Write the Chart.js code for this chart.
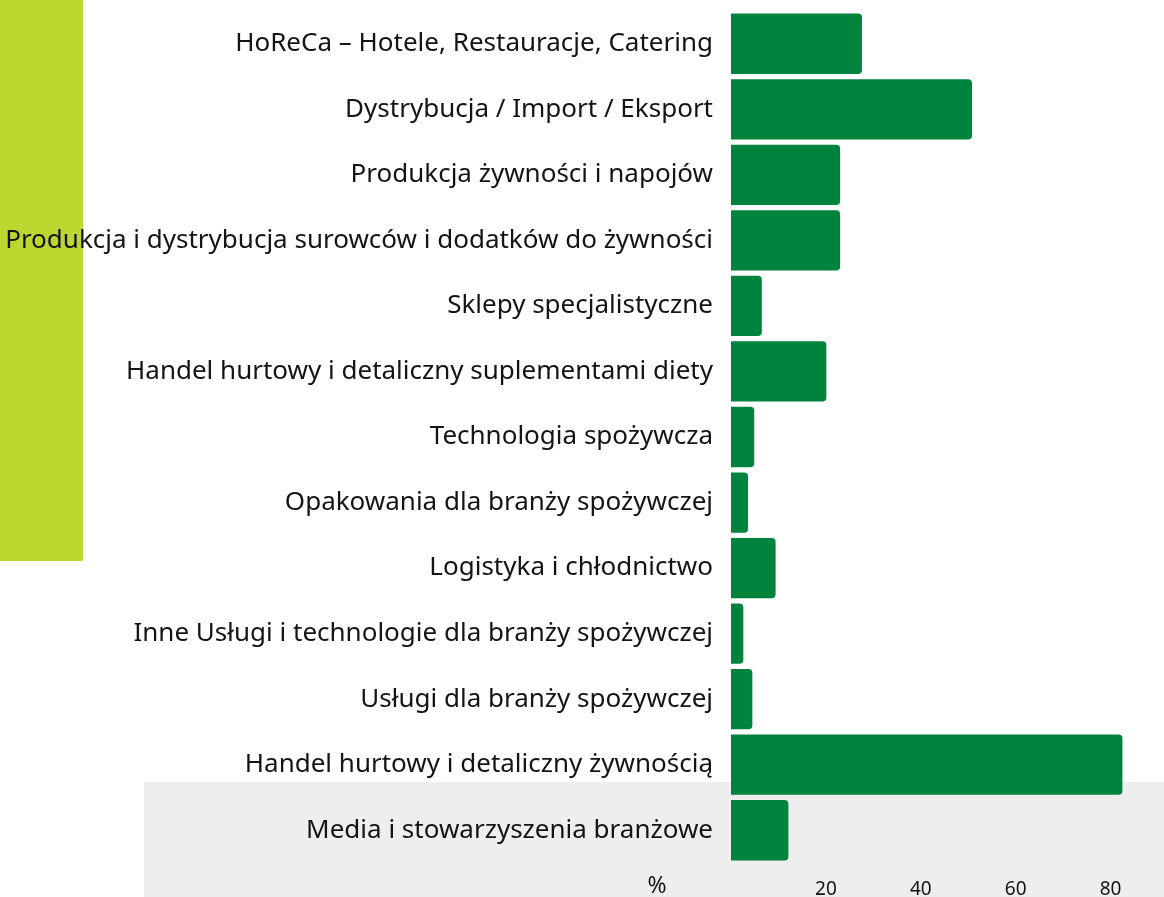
<!DOCTYPE html>
<html>
<head>
<meta charset="utf-8">
<script src="https://cdn.jsdelivr.net/npm/chart.js@4/dist/chart.umd.min.js"></script>
<style>
  html, body { margin: 0; padding: 0; background: #ffffff; }
  #wrap { position: relative; width: 1164px; height: 897px; }
</style>
</head>
<body>
<div id="wrap"><canvas id="branzeChart"></canvas></div>
<script>
// categories (top to bottom)
const categories = [
    'HoReCa – Hotele, Restauracje, Catering',
    'Dystrybucja / Import / Eksport',
    'Produkcja żywności i napojów',
    'Produkcja i dystrybucja surowców i dodatków do żywności',
    'Sklepy specjalistyczne',
    'Handel hurtowy i detaliczny suplementami diety',
    'Technologia spożywcza',
    'Opakowania dla branży spożywczej',
    'Logistyka i chłodnictwo',
    'Inne Usługi i technologie dla branży spożywczej',
    'Usługi dla branży spożywczej',
    'Handel hurtowy i detaliczny żywnością',
    'Media i stowarzyszenia branżowe'
];

// share of respondents, %
const shares = [27.6, 50.8, 23.0, 23.0, 6.5, 20.1, 4.9, 3.6, 9.4, 2.6, 4.5, 82.5, 12.1];

// x axis tick labels
const tickValues = [20, 40, 60, 80];
const unitLabel = '%';

const GREEN = '#00843d';
const TEXT = '#141414';
const FONT = '"Noto Sans"';

// background blocks + the "%" unit label
const decorPlugin = {
    id: 'decor',
    beforeDraw(chart) {
        const ctx = chart.ctx;
        ctx.save();
        ctx.fillStyle = '#bdd630';
        ctx.fillRect(0, 0, 83, 561);
        ctx.fillStyle = '#eeeeee';
        ctx.fillRect(144, 782, chart.width - 144, chart.height - 782);
        ctx.restore();
    },
    afterDraw(chart) {
        const ctx = chart.ctx;
        const x = chart.scales.x;
        ctx.save();
        ctx.fillStyle = TEXT;
        ctx.font = '23px ' + FONT;
        ctx.textAlign = 'center';
        ctx.textBaseline = 'middle';
        ctx.fillText(unitLabel, x.left - 74, 886);
        ctx.restore();
    }
};

const ctx = document.getElementById('branzeChart').getContext('2d');
new Chart(ctx, {
    type: 'bar',
    data: {
        labels: categories,
        datasets: [{
            data: shares,
            backgroundColor: GREEN,
            borderRadius: 4,
            borderSkipped: 'start',
            categoryPercentage: 1,
            barPercentage: 0.92
        }]
    },
    options: {
        indexAxis: 'y',
        responsive: true,
        maintainAspectRatio: false,
        animation: false,
        layout: {
            padding: { top: 11, right: 6, bottom: 0, left: 0 }
        },
        scales: {
            x: {
                min: 0,
                max: 90,
                grid: { display: false, drawTicks: false },
                border: { display: false },
                afterBuildTicks: axis => {
                    axis.ticks = tickValues.map(v => ({ value: v }));
                },
                afterFit: axis => {
                    axis.height = 34;
                    axis.paddingLeft = 0;
                    axis.paddingRight = 0;
                },
                ticks: {
                    color: TEXT,
                    font: { family: FONT, size: 19 },
                    padding: 15,
                    maxRotation: 0
                }
            },
            y: {
                grid: { display: false, drawTicks: false },
                border: { display: false },
                afterFit: axis => {
                    axis.width = 731;
                    axis.paddingTop = 0;
                    axis.paddingBottom = 0;
                },
                ticks: {
                    color: TEXT,
                    font: { family: FONT, size: 26 },
                    padding: 18
                }
            }
        },
        plugins: {
            legend: { display: false },
            tooltip: { enabled: false }
        }
    },
    plugins: [decorPlugin]
});
</script>
</body>
</html>
